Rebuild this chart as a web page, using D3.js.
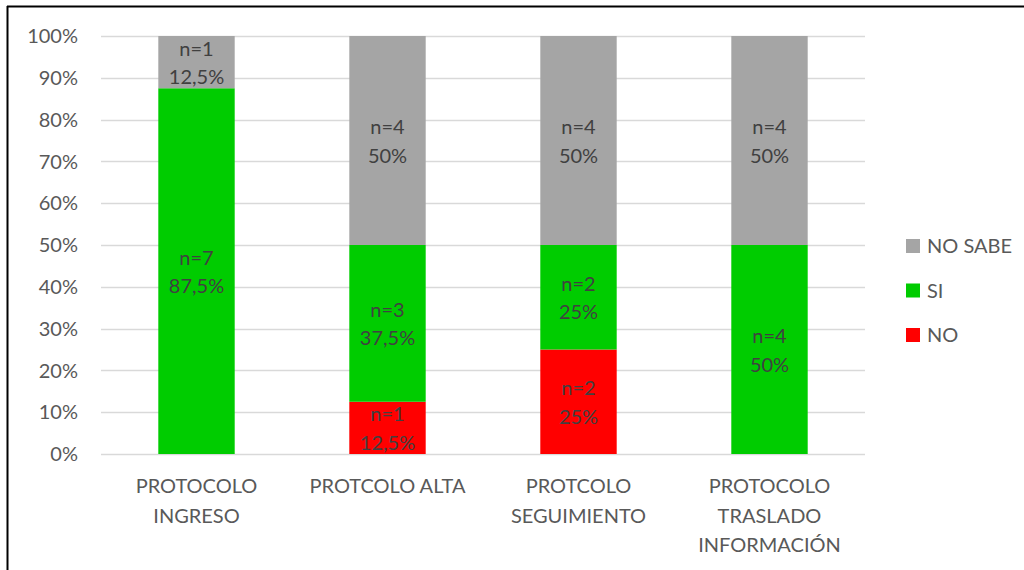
<!DOCTYPE html>
<html>
<head>
<meta charset="utf-8">
<script src="https://cdn.jsdelivr.net/npm/d3@7"></script>
<style>
  html, body { margin: 0; padding: 0; background: #fff; }
  svg { display: block; }
  text { font-family: Lato, "Open Sans", sans-serif; }
</style>
</head>
<body>
<svg id="chart" width="1024" height="570"></svg>
<script>
// Protocol categories (multi-line axis labels)
const categories = [
  ["PROTOCOLO", "INGRESO"],
  ["PROTCOLO ALTA"],
  ["PROTCOLO", "SEGUIMIENTO"],
  ["PROTOCOLO", "TRASLADO", "INFORMACIÓN"]
];
// Counts per answer (n of 8 respondents)
const seriesNames = ["NO", "SI", "NO SABE"];
const noValues = [0, 1, 2, 0];
const siValues = [7, 3, 2, 4];
const noSabeValues = [1, 4, 4, 4];
const yTicks = [0, 0.1, 0.2, 0.3, 0.4, 0.5, 0.6, 0.7, 0.8, 0.9, 1];
const colors = { "NO": "#FF0000", "SI": "#00CC00", "NO SABE": "#A5A5A5" };

const seriesValues = { "NO": noValues, "SI": siValues, "NO SABE": noSabeValues };
const rows = categories.map((c, i) => {
  const r = { key: c.join(" ") };
  seriesNames.forEach(s => r[s] = seriesValues[s][i]);
  r.total = seriesNames.reduce((a, s) => a + r[s], 0);
  return r;
});
const stacked = d3.stack().keys(seriesNames)
  .value((d, k) => d[k] / d.total)(rows);

const svg = d3.select("#chart");
const fs = 20;

// frame lines
svg.append("line").attr("x1", 7).attr("x2", 1024).attr("y1", 6.5).attr("y2", 6.5)
  .attr("stroke", "#000").attr("stroke-width", 2);
svg.append("line").attr("x1", 7.5).attr("x2", 7.5).attr("y1", 6).attr("y2", 570)
  .attr("stroke", "#000").attr("stroke-width", 2);

const x = d3.scaleBand().domain(rows.map(d => d.key))
  .range([101, 865]).paddingInner(0.6).paddingOuter(0.3);
const y = d3.scaleLinear().domain([0, 1]).range([454, 36]);

// gridlines
svg.append("g").selectAll("line").data(yTicks).join("line")
  .attr("x1", 101).attr("x2", 865)
  .attr("y1", d => Math.round(y(d)) + 0.5).attr("y2", d => Math.round(y(d)) + 0.5)
  .attr("stroke", "#D9D9D9").attr("stroke-width", 1.5);

// y axis labels
const pct = d3.format(".0%");
svg.append("g").selectAll("text").data(yTicks).join("text")
  .attr("x", 78).attr("y", d => y(d)).attr("dy", "0.36em")
  .attr("text-anchor", "end").attr("fill", "#595959").attr("font-size", fs)
  .text(d => pct(d));

// bars
const layers = svg.append("g").selectAll("g").data(stacked).join("g")
  .attr("fill", d => colors[d.key]);
layers.selectAll("rect").data(d => d).join("rect")
  .attr("x", d => x(d.data.key))
  .attr("width", x.bandwidth())
  .attr("y", d => y(d[1]))
  .attr("height", d => y(d[0]) - y(d[1]));

// data labels
const fmtPct = v => d3.format(".1~f")(v * 100).replace(".", ",") + "%";
stacked.forEach(layer => {
  layer.forEach(d => {
    const n = d.data[layer.key];
    if (!n) return;
    const cx = x(d.data.key) + x.bandwidth() / 2;
    const cy = (y(d[0]) + y(d[1])) / 2;
    const t = svg.append("text").attr("x", cx).attr("y", cy)
      .attr("text-anchor", "middle").attr("fill", "#404040").attr("font-size", fs);
    t.append("tspan").attr("x", cx).attr("dy", "-0.32em").text("n=" + n);
    t.append("tspan").attr("x", cx).attr("dy", "1.42em").text(fmtPct(n / d.data.total));
  });
});

// category labels
categories.forEach((lines, i) => {
  const cx = x(rows[i].key) + x.bandwidth() / 2;
  const t = svg.append("text").attr("text-anchor", "middle")
    .attr("fill", "#595959").attr("font-size", fs);
  lines.forEach((l, j) => {
    t.append("tspan").attr("x", cx).attr("y", 486 + j * 29.5).attr("dy", "0.36em").text(l);
  });
});

// legend
const legendOrder = ["NO SABE", "SI", "NO"];
const lg = svg.append("g").selectAll("g").data(legendOrder).join("g")
  .attr("transform", (d, i) => `translate(906, ${246 + i * 44.5})`);
lg.append("rect").attr("x", 0).attr("y", -7).attr("width", 14).attr("height", 14)
  .attr("fill", d => colors[d]);
lg.append("text").attr("x", 21).attr("y", 0).attr("dy", "0.36em")
  .attr("fill", "#595959").attr("font-size", fs).text(d => d);
</script>
</body>
</html>
